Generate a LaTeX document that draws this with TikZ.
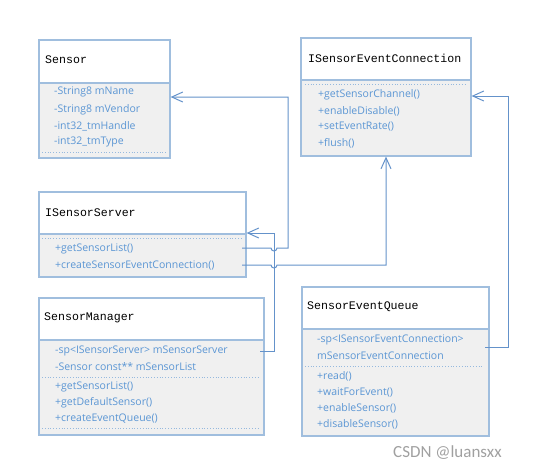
\documentclass[tikz,border=0pt]{standalone}
\usepackage{fontspec}
\setmainfont{Open Sans}
\newfontfamily\titlefont{Liberation Mono}
\newfontfamily\wmfont{Carlito}
\usetikzlibrary{arrows.meta}
\definecolor{boxline}{RGB}{160,190,222}
\definecolor{bodyfill}{RGB}{240,240,240}
\definecolor{membertext}{RGB}{91,150,212}
\definecolor{connline}{RGB}{100,146,202}
\definecolor{dotline}{RGB}{150,185,222}
\definecolor{wmgray}{RGB}{160,160,160}
\tikzset{
  header/.style={draw=boxline, line width=1.6pt, fill=white, anchor=north west, inner sep=0pt},
  body/.style={draw=boxline, line width=1.6pt, fill=bodyfill, anchor=north west, inner sep=0pt},
  title/.style={anchor=west, inner sep=0pt, font=\titlefont\fontsize{11.6}{13}\selectfont, text=black},
  member/.style={anchor=west, inner sep=0pt, font=\fontsize{10.5}{13}\selectfont, text=membertext},
  sep/.style={draw=dotline, line width=0.8pt, dotted},
  conn/.style={draw=connline, line width=1pt},
  tip/.style={-{Straight Barb[length=11pt,width=10pt,line width=1pt]}},
}
\begin{document}
\begin{tikzpicture}[x=1pt,y=-1pt]
\useasboundingbox (0,0) rectangle (548,471);

% ---------- Sensor ----------
\node[body, minimum width=131pt, minimum height=75pt] (sensorB) at (38,82) {};
\node[header, minimum width=131pt, minimum height=43pt] (sensorH) at (38,39) {};
\node[title] (sensorT) at (45,60) {Sensor};
\node[member] (s1) at (54,92) {-String8 mName};
\node[member] (s2) at (54,110) {-String8 mVendor};
\node[member] (s3) at (54,126) {-int32\_tmHandle};
\node[member] (s4) at (54,142) {-int32\_tmType};
\draw[sep] (42,152) -- (166,152);

% ---------- ISensorEventConnection ----------
\node[body, minimum width=170pt, minimum height=76pt] (secB) at (300,79) {};
\node[header, minimum width=170pt, minimum height=42pt] (secH) at (300,37) {};
\node[title] (secT) at (308,58) {ISensorEventConnection};
\draw[sep] (305,84) -- (466,84);
\node[member] (c1) at (318,95) {+getSensorChannel()};
\node[member] (c2) at (318,111) {+enableDisable()};
\node[member] (c3) at (318,127) {+setEventRate()};
\node[member] (c4) at (318,143) {+flush()};

% ---------- ISensorServer ----------
\node[body, minimum width=207pt, minimum height=43pt] (ssB) at (38,233) {};
\node[header, minimum width=207pt, minimum height=42pt] (ssH) at (38,191) {};
\node[title] (ssT) at (45,213) {ISensorServer};
\draw[sep] (42,238) -- (241,238);
\node[member] (ss1) at (55,249) {+getSensorList()};
\node[member] (ss2) at (55,265) {+createSensorEventConnection()};

% ---------- SensorManager ----------
\node[body, minimum width=225pt, minimum height=95pt] (smB) at (38,339) {};
\node[header, minimum width=225pt, minimum height=42pt] (smH) at (38,297) {};
\node[title] (smT) at (44,318) {SensorManager};
\node[member] (sm1) at (55,351) {-sp<ISensorServer> mSensorServer};
\node[member] (sm2) at (55,367) {-Sensor const** mSensorList};
\draw[sep] (42,377) -- (259,377);
\node[member] (sm3) at (55,387) {+getSensorList()};
\node[member] (sm4) at (55,403) {+getDefaultSensor()};
\node[member] (sm5) at (55,419) {+createEventQueue()};
\draw[sep] (42,428) -- (259,428);

% ---------- SensorEventQueue ----------
\node[body, minimum width=187pt, minimum height=107pt] (seqB) at (301,328) {};
\node[header, minimum width=187pt, minimum height=42pt] (seqH) at (301,286) {};
\node[title] (seqT) at (307,307) {SensorEventQueue};
\node[member] (q1) at (317,340) {-sp<ISensorEventConnection>};
\node[member] (q2) at (317,356) {mSensorEventConnection};
\draw[sep] (305,366) -- (484,366);
\node[member] (q3) at (317,376) {+read()};
\node[member] (q4) at (317,392) {+waitForEvent()};
\node[member] (q5) at (317,408) {+enableSensor()};
\node[member] (q6) at (317,424) {+disableSensor()};

% ---------- connectors ----------
\coordinate (a1) at (242,248);
\coordinate (a2) at (242,265);
\coordinate (a3) at (260,351);
\coordinate (a4) at (485,347);
\coordinate (t1) at (sensorB.east |- 0,97);
\coordinate (t2) at (386,0 |- secB.south);
\coordinate (t3) at (ssB.north east);
\coordinate (t4) at (secB.east |- 0,96);

% ISensorServer.getSensorList -> Sensor
\draw[conn, tip] (a1) -- (271,248) arc[start angle=180, end angle=0, radius=3]
  -- (288,248) -- (288,97) -- (t1);
% ISensorServer.createSensorEventConnection -> ISensorEventConnection
\draw[conn, tip] (a2) -- (271,265) arc[start angle=180, end angle=0, radius=3]
  -- (386,265) -- (t2);
% SensorManager.mSensorServer -> ISensorServer
\draw[conn, tip] (a3) -- (274,351) -- (274,233) -- (t3);
% SensorEventQueue.mSensorEventConnection -> ISensorEventConnection
\draw[conn, tip] (a4) -- (508,347) -- (508,96) -- (t4);

% watermark
\node[anchor=west, inner sep=0pt, font=\wmfont\fontsize{17}{19}\selectfont, text=wmgray] (wm) at (393,453) {CSDN @luansxx};
\end{tikzpicture}
\end{document}
